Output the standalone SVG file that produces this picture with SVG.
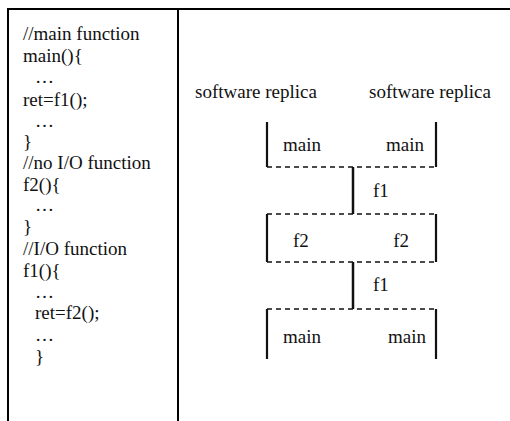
<svg xmlns="http://www.w3.org/2000/svg" width="510" height="421" viewBox="0 0 510 421">
<style>
text{font-family:"Liberation Serif","Times New Roman",serif;font-size:19px;fill:#111}
.frame{stroke:#000;stroke-width:2;fill:none}
.side{stroke:#111;stroke-width:2.2;fill:none}
.dash{stroke:#111;stroke-width:1.6;stroke-dasharray:5 4;fill:none}
.conn{stroke:#111;stroke-width:2.5;fill:none}
</style>
<rect width="510" height="421" fill="#fff"/>
<g id="frame">
<line class="frame" x1="8" y1="9" x2="510" y2="9"/>
<line class="frame" x1="8" y1="8" x2="8" y2="421"/>
<line class="frame" x1="178" y1="9" x2="178" y2="421"/>
</g>
<g id="code">
<text x="23" y="40">//main function</text>
<text x="23" y="62">main(){</text>
<text x="35" y="83">…</text>
<text x="23" y="106">ret=f1();</text>
<text x="35" y="127">…</text>
<text x="23" y="148">}</text>
<text x="23" y="169">//no I/O function</text>
<text x="23" y="191">f2(){</text>
<text x="35" y="211">…</text>
<text x="23" y="233">}</text>
<text x="23" y="255">//I/O function</text>
<text x="23" y="277">f1(){</text>
<text x="35" y="298">…</text>
<text x="35" y="319">ret=f2();</text>
<text x="35" y="341">…</text>
<text x="35" y="363">}</text>
</g>
<g id="headers">
<text x="195" y="98">software replica</text>
<text x="369" y="98">software replica</text>
</g>
<g id="box-main-top">
<path class="side" d="M267 122V167M436 122V167"/>
<line class="dash" x1="267" y1="167" x2="436" y2="167"/>
<text x="283" y="151">main</text>
<text x="424" y="151" text-anchor="end">main</text>
</g>
<g id="box-f2">
<path class="side" d="M267 214V262M436 214V262"/>
<line class="dash" x1="267" y1="214" x2="436" y2="214"/>
<line class="dash" x1="267" y1="262" x2="436" y2="262"/>
<text x="293" y="247">f2</text>
<text x="409" y="247" text-anchor="end">f2</text>
</g>
<g id="box-main-bottom">
<path class="side" d="M267 309V359M436 309V359"/>
<line class="dash" x1="267" y1="309" x2="436" y2="309"/>
<text x="283" y="343">main</text>
<text x="426" y="343" text-anchor="end">main</text>
</g>
<g id="connectors">
<line class="conn" x1="353" y1="167" x2="353" y2="214"/>
<text x="373" y="197">f1</text>
<line class="conn" x1="353" y1="262" x2="353" y2="309"/>
<text x="373" y="291">f1</text>
</g>
</svg>
